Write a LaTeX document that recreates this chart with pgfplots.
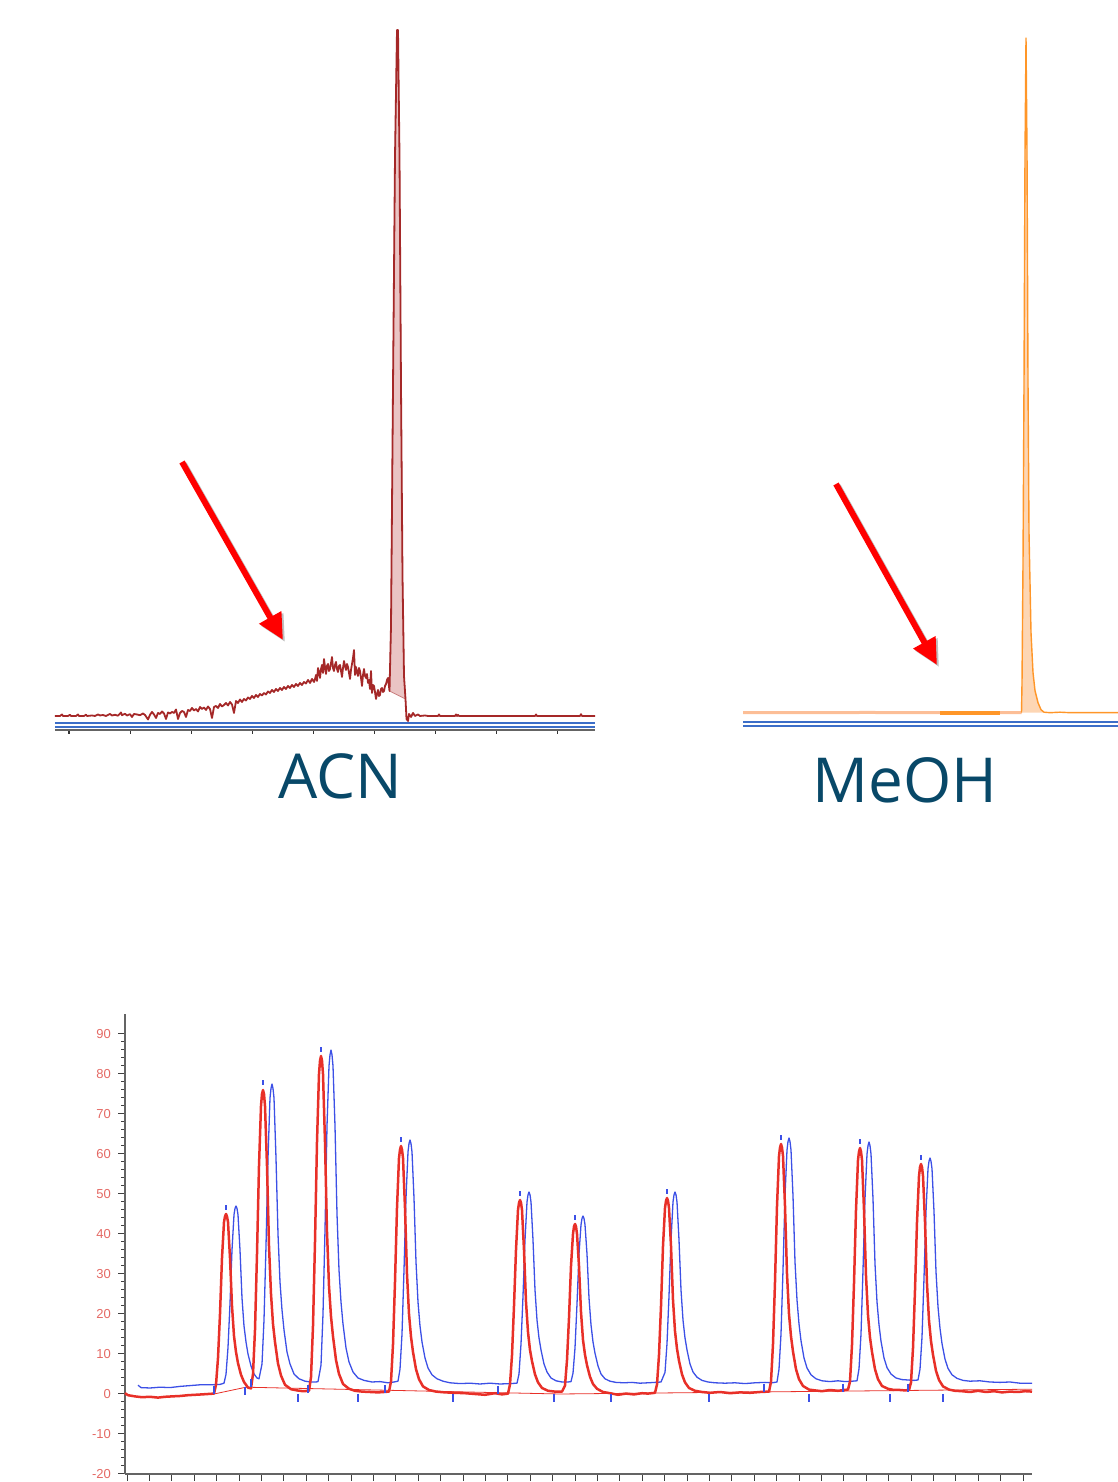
\documentclass[border=0pt]{standalone}
\usepackage{pgfplots}
\pgfplotsset{compat=1.18}
\usepackage{fontspec}
\setmainfont{Liberation Sans}
\newfontfamily\labelfont{Open Sans}
\usetikzlibrary{arrows.meta}

\definecolor{acnred}{RGB}{165,40,40}
\definecolor{acnfill}{RGB}{234,196,196}
\definecolor{meoh}{RGB}{255,150,40}
\definecolor{meohlight}{RGB}{252,190,150}
\definecolor{meohfill}{RGB}{253,214,180}
\definecolor{railblue}{RGB}{60,110,200}
\definecolor{labelblue}{RGB}{8,72,104}
\definecolor{trred}{RGB}{232,48,40}
\definecolor{trblue}{RGB}{60,80,230}
\definecolor{tickred}{RGB}{228,105,100}
\definecolor{axgray}{RGB}{100,100,100}

\begin{document}
\begin{tikzpicture}
\useasboundingbox (0,0) rectangle (559pt,741pt);

% ---------------- ACN panel
\begin{axis}[
    at={(27.5pt,376pt)}, anchor=south west,
    scale only axis, width=270pt, height=352pt,
    xmin=55, xmax=595, ymin=-14, ymax=690,
    axis x line*=bottom, axis y line=none,
    x axis line style={-, draw=axgray, line width=0.8pt},
    xtick={69,130.1,...,560}, xticklabel=\empty,
    tick align=outside, major tick length=2pt,
    tick style={draw=black!80, line width=0.6pt},
]
\addplot[railblue, line width=1.3pt] coordinates {(55,-7) (595,-7)};
\addplot[railblue, line width=1.3pt] coordinates {(55,-11) (595,-11)};
% integrated peak area
\addplot[fill=acnfill, draw=acnred!60, line width=0.4pt] coordinates {
 (389.5,25) (391,90) (393,330) (395,560) (397,686) (398,686) (399.5,560)
 (401,330) (402.5,140) (404,40) (405.5,17)} -- cycle;
\addplot[acnred, line width=0.9pt, line join=round] coordinates {
 (55,0) (60,0) (62,1.5) (63,0) (68,0) (70,1.2) (71,0) (76,0) (78,1.5) (79,0)
 (84,0) (86,1.3) (87,0) (92,0.5) (95,0) (98,1.5) (100,0.5) (103,1) (106,0)
 (110,2) (112,0.5) (115,1.2) (118,0.3) (121,3.5) (122,0.8) (125,2.2) (127,0.5)
 (130,1.8) (132,-1) (134,2) (137,1.5) (140,0.8) (143,2.5) (145,1) (148,-3.5)
 (150,1.2) (152,4) (154,1.5) (156,-2) (158,3) (160,2) (162,4.5) (164,2.5)
 (166,-3) (168,3.5) (170,2.5) (172,4) (174,3) (176,6.5) (178,-3) (180,3)
 (182,5) (184,4) (186,-1) (188,6) (190,5) (192,8) (194,5.5) (196,7) (198,4.5)
 (200,9) (202,7) (204,8.5) (206,6) (208,9.5) (210,7) (212,-2) (214,9) (216,10)
 (218,8) (220,12) (222,9.5) (224,11) (226,13) (228,10.5) (230,14) (232,11.5)
 (234,3) (236,15) (238,13) (240,16.5) (242,14) (244,17) (246,15.5) (248,18.5)
 (250,17) (252,20) (254,18) (256,21) (258,19) (260,22) (262,20.5) (264,23)
 (266,21.5) (268,24.5) (270,23) (272,26) (274,24) (276,27) (278,25) (280,28)
 (282,26) (284,29) (286,27) (288,30) (290,28) (292,31) (294,29) (296,32)
 (298,30) (300,33) (302,31) (304,34) (306,32.5) (308,36) (310,33) (312,37)
 (314,34) (315,37) (316,41) (317,35) (318,48) (319,44) (320,38) (321,47)
 (322,51) (323,43) (324,57) (325,49) (326,42) (327,50) (328,52) (329,45)
 (330,47) (331,53) (332,59) (333,48) (334,45) (335,51) (336,54) (337,47)
 (338,44) (339,50) (340,51) (341,45) (342,39) (343,48) (344,55) (345,50)
 (346,46) (347,52) (348,49) (349,43) (350,37) (351,46) (352,52) (353,58)
 (354,66) (355,41) (356,49) (357,44) (358,40) (359,48) (360,45) (361,38)
 (362,30) (363,41) (364,47) (365,40) (366,38) (367,42) (368,33) (369,36)
 (370,27) (371,45) (372,23) (373,31) (374,30) (375,24) (376,17) (377,22)
 (378,26) (379,20) (380,21) (381,27) (382,28) (383,24) (384,25) (385,30)
 (386,32) (387,36) (388,38)
 (389.5,25) (391,90) (393,330) (395,560) (397,686) (398,686) (399.5,560)
 (401,330) (402.5,140) (404,40) (405.5,17) (406.5,-3) (408,-5) (409,2)
 (411,-1) (413,3) (415,0) (418,1.5) (420,0) (425,0.5) (428,0) (438,0)
 (439,1.5) (440,0) (455,0) (456,1.5) (457,0) (458,1.2) (459,0) (535,0)
 (536,1.5) (537,0) (580,0) (581,1.8) (582,0) (595,0)};
\end{axis}

% ---------------- MeOH panel
\begin{axis}[
    at={(371.5pt,377pt)}, anchor=south west,
    scale only axis, width=187.5pt, height=349pt,
    xmin=743, xmax=1118, ymin=-15.3, ymax=682.7,
    hide axis,
]
\addplot[railblue, line width=1.3pt] coordinates {(743,-9.3) (1118,-9.3)};
\addplot[railblue, line width=1.3pt] coordinates {(743,-13.3) (1118,-13.3)};
\addplot[fill=meohfill, draw=none] coordinates {
 (1021.5,0) (1022,30) (1023,150) (1024,330) (1025,560) (1026,675) (1027,560)
 (1028,330) (1029,180) (1031,80) (1033,40) (1035,22) (1038,10) (1041,3)
 (1044,0)} -- cycle;
\addplot[meohlight, line width=1.5pt] coordinates {
 (743,0) (850,0) (870,0.4) (880,0) (1018,0) (1021.5,0)};
\addplot[meoh, line width=0.7pt] coordinates {
 (1021.5,0) (1022,30) (1023,150) (1024,330) (1025,560) (1026,675) (1027,560)
 (1028,330) (1029,180) (1031,80) (1033,40) (1035,22) (1038,10) (1041,3)
 (1044,0.5) (1050,0) (1060,0.5) (1070,0) (1118,0)};
\addplot[meoh, line width=2pt] coordinates {(940,0) (1000,0)};
\end{axis}

% labels and arrows
\node[font=\labelfont\fontsize{31}{31}\selectfont, text=labelblue] at (170pt,353pt) {ACN};
\node[font=\labelfont\fontsize{31}{31}\selectfont, text=labelblue] at (452.5pt,351pt) {MeOH};
\draw[black!25, line width=3pt, -{Triangle[length=13pt,width=12pt]}] (92pt,509pt) -- (142.5pt,420pt);
\draw[red, line width=3pt, -{Triangle[length=13pt,width=12pt]}] (91pt,510pt) -- (141.5pt,421pt);
\draw[black!25, line width=3pt, -{Triangle[length=13pt,width=12pt]}] (419pt,498pt) -- (469.5pt,407.5pt);
\draw[red, line width=3pt, -{Triangle[length=13pt,width=12pt]}] (418pt,499pt) -- (468.5pt,408.5pt);

% ---------------- chromatogram overlay
\begin{axis}[
    at={(62.5pt,4pt)}, anchor=south west,
    scale only axis, width=453.5pt, height=230pt,
    xmin=125, xmax=1032, ymin=-20, ymax=95,
    axis lines=left, axis line style={-, draw=axgray, line width=0.9pt},
    xtick={127,149.4,...,1024}, xticklabel=\empty,
    ytick={-20,-10,...,90}, minor y tick num=4,
    tick align=outside, major tick length=3.5pt, minor tick length=2pt,
    tick style={draw=black!75, line width=0.5pt},
    yticklabel style={font=\fontsize{6.5}{7}\selectfont, text=tickred},
    /pgf/number format/assume math mode=true,
    clip=false,
]
\addplot[trred, line width=0.4pt] coordinates {(214,0) (246,1.7) (560,0) (1032,1.2)};
\addplot[trblue, line width=0.65pt, line join=round] coordinates {
 (138,2.2) (141,1.6) (150,1.5) (160,1.7) (170,1.6) (180,1.9) (190,2.1) (200,2.3)
 (210,2.3) (220,2.4) (224,2.7)
 (226,4.9) (228,11.6) (230,22.6) (232,36) (234,44.8) (235,46.4) (236,47) (237,46.4)
 (238,44.8) (240,36)
 (242,24) (244,17) (246,13) (248,10) (251,7) (254,5) (257,4) (259,3.8)
 (262,7.5) (264,18.5) (266,37) (268,59) (270,74) (271,76.4) (272,77.5) (273,76.4)
 (274,74) (276,59)
 (278,40) (280,28) (282,21) (284,16) (287,10.5) (290,7.5) (294,5) (299,3.8)
 (305,3.2) (311,3) (316,3) (318,3.1)
 (321,7.2) (323,20) (325,41) (327,67) (329,82) (330,84.8) (331,86) (332,84.8)
 (333,82) (335,67)
 (337,45) (339,31) (341,23) (343,17.5) (346,11.5) (349,8) (353,5.5) (358,4)
 (364,3.4) (372,3) (380,3.1) (388,2.8) (394,3) (398,3.2)
 (400,6.2) (402,15) (404,31) (406,49) (408,60.5) (409,62.6) (410,63.5) (411,62.6)
 (412,60.5) (414,49)
 (416,33) (418,23) (420,17) (422,13) (425,9) (428,6.5) (432,4.8) (437,3.8)
 (443,3.2) (450,2.8) (460,2.6) (470,2.7) (480,2.5) (490,2.7) (500,2.5)
 (510,2.6) (517,2.7)
 (519,5) (521,12.5) (523,24.5) (525,38.5) (527,48) (528,49.8) (529,50.5) (530,49.8)
 (531,48) (533,38.5) (535,26) (537,18.5) (539,14) (541,11) (544,7.5) (547,5.5) (551,4)
 (556,3.3) (562,3) (568,3) (571,3.1)
 (573,5.2) (575,11.5) (577,22.5) (579,35) (581,42.3) (582,43.9) (583,44.5) (584,43.9)
 (585,42.3) (587,35) (589,24) (591,17.3) (593,13) (595,10.2) (598,7) (601,5) (605,3.8)
 (610,3.2) (616,2.9) (624,2.8) (632,2.9) (640,2.7) (648,2.8) (655,2.9) (661,3)
 (665,5.4) (667,12.6) (669,24.5) (671,38.5) (673,48) (674,49.8) (675,50.5) (676,49.8)
 (677,48) (679,38.5) (681,26) (683,18.5) (685,14) (687,11) (690,7.5) (693,5.5) (697,4.2)
 (702,3.4) (708,3) (715,2.8) (725,2.7) (735,2.8) (745,2.6) (755,2.8) (765,2.9)
 (772,2.8) (777,3)
 (779,6.2) (781,15) (783,31) (785,49.5) (787,61) (788,63.1) (789,64) (790,63.1)
 (791,61) (793,49.5)
 (795,33) (797,23.5) (799,17.5) (801,13.3) (804,9) (807,6.5) (811,4.8)
 (816,3.8) (822,3.3) (830,3.1) (838,3.3) (845,3.1) (852,3.2) (857,3.3)
 (859,6.3) (861,15) (863,31) (865,48.8) (867,60) (868,62.1) (869,63) (870,62.1)
 (871,60) (873,48.8)
 (875,32.5) (877,23) (879,17.3) (881,13.2) (884,9) (887,6.6) (891,5) (896,4)
 (902,3.6) (908,3.5) (914,3.4) (918,3.5)
 (920,6.2) (922,14.2) (924,29) (926,45.6) (928,56.3) (929,58.2) (930,59) (931,58.2)
 (932,56.3) (934,45.6) (936,30.5) (938,21.8) (940,16.4) (942,12.6) (945,8.7) (948,6.4)
 (952,4.8) (957,3.9) (963,3.4) (970,3.2) (980,3.3) (990,3) (1000,2.9)
 (1010,3) (1020,2.7) (1032,2.7)};
\addplot[trred, line width=1.25pt, line join=round] coordinates {
 (125,0.2) (128,-0.3) (135,-0.6) (142,-0.8) (150,-0.7) (158,-0.9) (165,-0.7)
 (172,-0.6) (180,-0.5) (188,-0.3) (195,-0.2) (202,-0.1) (208,0) (214,0.1)
 (216,2.3) (218,9) (220,20) (222,34) (224,43) (225,44.4) (226,45) (227,44.4)
 (228,43) (230,34)
 (232,22) (234,14.5) (236,10.5) (238,7.7) (241,4.8) (244,3) (248,1.6) (251,1.4)
 (253,5) (255,16) (257,35) (259,57) (261,72) (262,75) (263,76) (264,75) (265,72) (267,57)
 (269,37) (271,25) (273,17.5) (275,13) (278,7.6) (281,4.6) (285,2.3) (291,1.2)
 (297,0.9) (303,0.7) (309,0.8)
 (311,4.2) (313,17) (315,38) (317,63) (319,80) (320,83.3) (321,84.5) (322,83.3)
 (323,80) (325,63)
 (327,40.5) (329,27) (331,19.4) (333,14.4) (336,8.5) (339,5) (343,2.5)
 (349,1.3) (355,0.8) (362,0.6) (370,0.5) (378,0.4) (384,0.5) (389,0.6)
 (391,3.1) (393,12.4) (395,28) (397,46.5) (399,59) (400,61.1) (401,62) (402,61.1)
 (403,59) (405,46.5)
 (407,30) (409,20) (411,14.3) (413,10.5) (416,6.2) (419,3.7) (423,1.9) (429,1)
 (436,0.6) (445,0.4) (455,0.3) (465,0.2) (475,0) (485,-0.2) (495,0.2)
 (502,-0.1) (508,0.1)
 (510,2.4) (512,9.7) (514,22) (516,36) (518,46) (519,47.8) (520,48.5) (521,47.8)
 (522,46) (524,36)
 (526,23) (528,15.5) (530,11) (532,8.2) (535,4.9) (538,2.9) (542,1.5) (548,0.8)
 (555,0.6) (562,0.6)
 (565,2.1) (567,8.5) (569,19) (571,32) (573,40) (574,41.9) (575,42.5) (576,41.9)
 (577,40) (579,32)
 (581,20.5) (583,13.5) (585,9.8) (587,7.2) (590,4.3) (593,2.5) (597,1.3)
 (603,0.5) (610,0.2) (618,-0.2) (626,0.1) (634,-0.1) (642,0.2) (648,0.1)
 (655,0.3)
 (657,2.4) (659,9.8) (661,22) (663,37) (665,46.5) (666,48.3) (667,49) (668,48.3)
 (669,46.5) (671,37)
 (673,23.5) (675,15.7) (677,11.3) (679,8.3) (682,4.9) (685,2.9) (689,1.5)
 (695,0.8) (702,0.5) (710,0.3) (720,0.5) (730,0.2) (740,0.4) (750,0.3)
 (760,0.5) (769,0.6)
 (771,3.1) (773,12.5) (775,28) (777,47) (779,59.5) (780,61.6) (781,62.5) (782,61.6)
 (783,59.5) (785,47) (787,30) (789,20) (791,14.4) (793,10.6) (796,6.2) (799,3.7) (803,2)
 (809,1.1) (815,0.9) (822,0.7) (830,1) (838,0.8) (844,1) (848,1.1)
 (850,3.1) (852,12.3) (854,27.7) (856,46) (858,58.5) (859,60.6) (860,61.5) (861,60.6)
 (862,58.5) (864,46) (866,29.5) (868,19.7) (870,14.1) (872,10.5) (875,6.2) (878,3.7)
 (882,2) (888,1.3) (894,1) (900,1) (905,0.9) (909,1)
 (911,2.9) (913,11.5) (915,26) (917,43) (919,54.5) (920,56.7) (921,57.5) (922,56.7)
 (923,54.5) (925,43) (927,27.5) (929,18.4) (931,13.2) (933,9.8) (936,5.8) (939,3.5)
 (943,1.9) (949,1.1) (955,0.8) (962,0.7) (970,0.5) (978,0.8) (986,0.5)
 (994,0.7) (1002,0.4) (1010,0.6) (1018,0.5) (1025,0.7) (1032,0.6)};
% peak-start / peak-end markers
\addplot[trblue, only marks, mark=|, mark size=2pt, mark options={line width=0.6pt}] coordinates {
 (298,-1) (358,-1) (453,-1) (554,-1) (611,-1) (709,-1) (809,-1) (890,-1) (943,-1)
 (245,0.8) (214,1) (251,2.8) (308,1.3) (385,1.3) (498,1) (764,1.5) (843,1.6) (908,1.6)};
% apex markers
\addplot[trblue, only marks, mark=|, mark size=1.2pt, mark options={line width=0.6pt}] coordinates {
 (226,46.6) (263,77.8) (321,86.1) (401,63.6) (520,50.1) (575,44.1) (667,50.6)
 (781,64.1) (860,63.1) (921,59.1)};
\end{axis}
\end{tikzpicture}
\end{document}
